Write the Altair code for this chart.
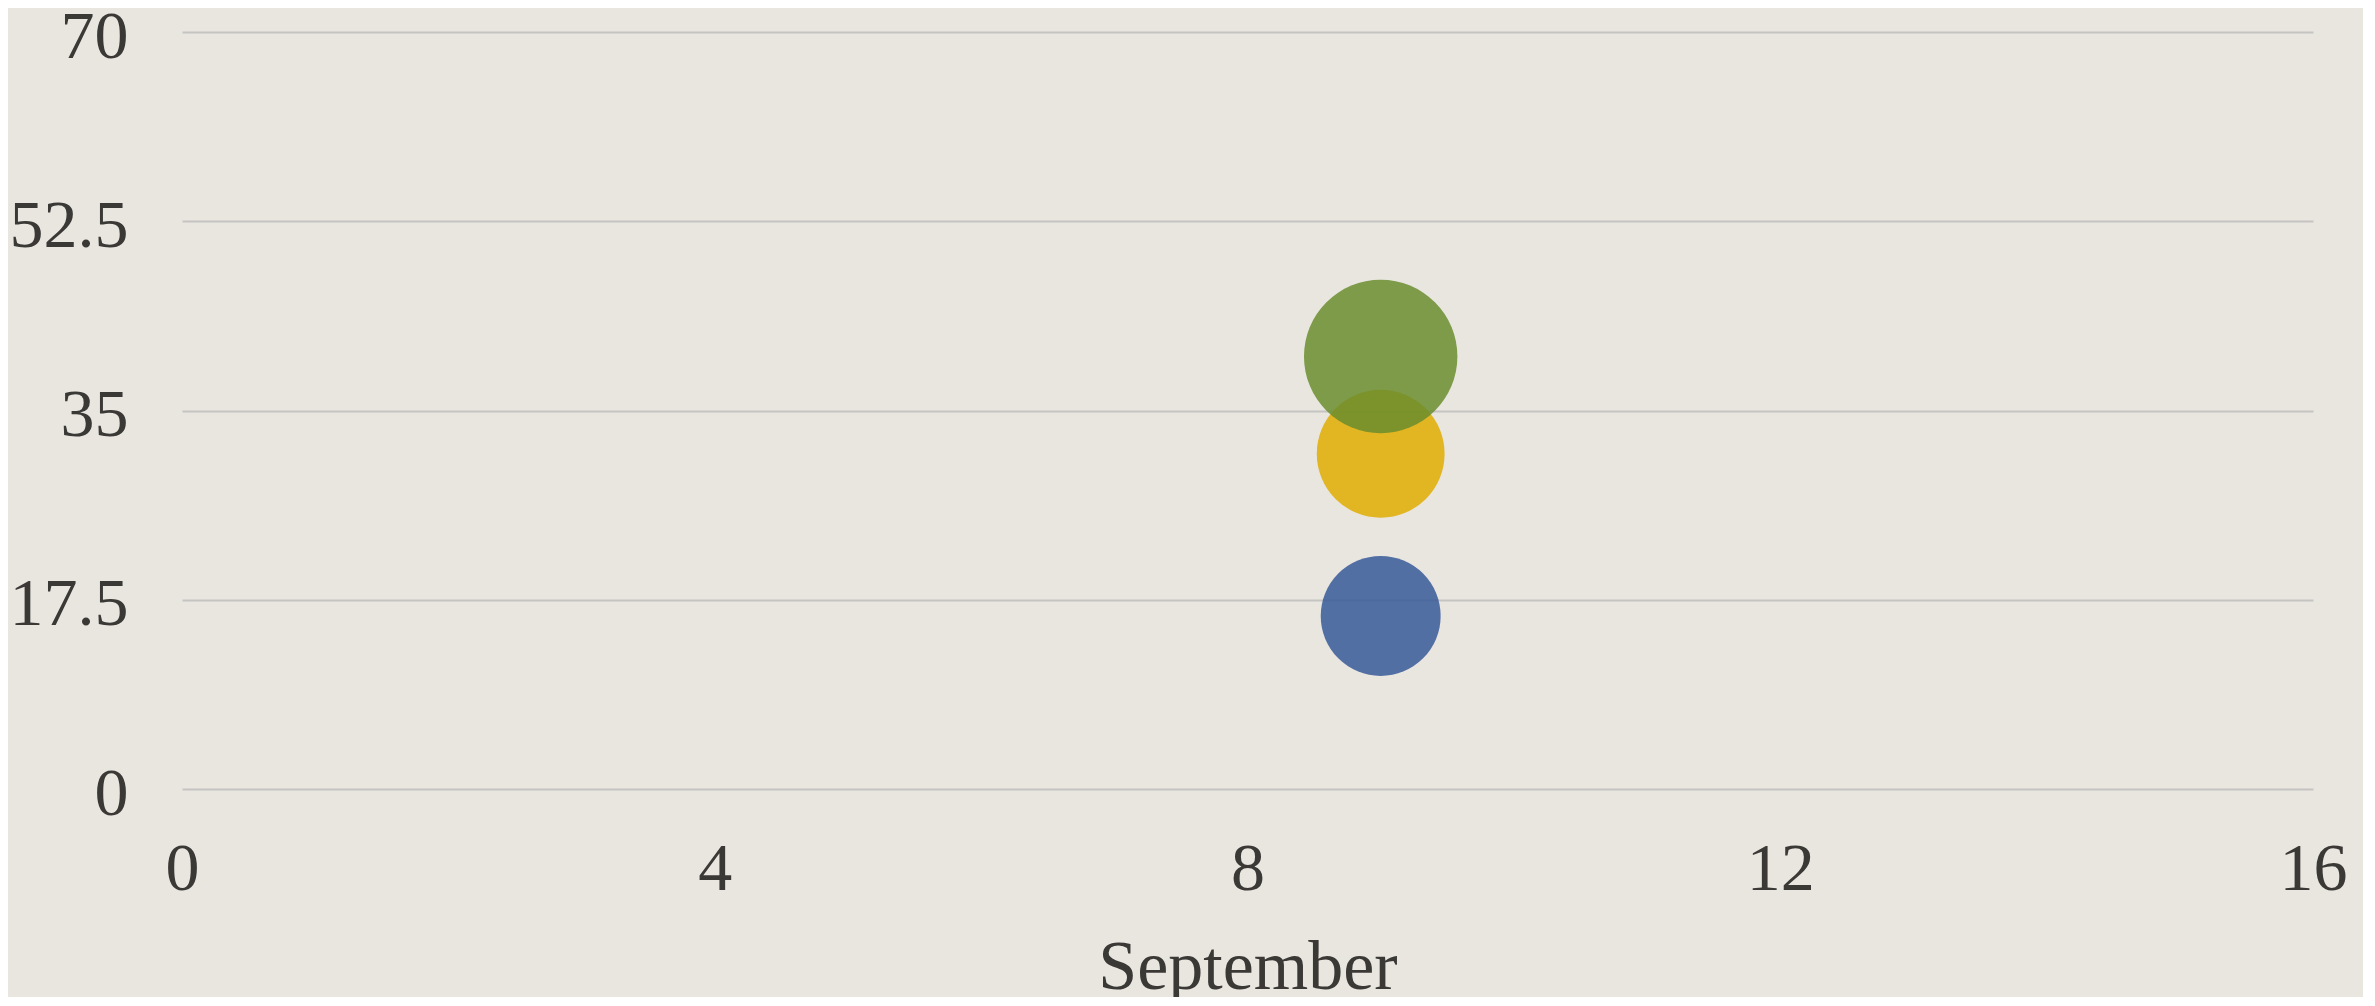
import altair as alt
import pandas as pd

series = ["Series 1", "Series 2", "Series 3"]
x_values = [9, 9, 9]
y_values = [16, 31, 40]
bubble_sizes = [11, 12.5, 18]
colors = ["#375999", "#e0ac00", "#6a8d2e"]
x_ticks = [0, 4, 8, 12, 16]
y_ticks = [0, 17.5, 35, 52.5, 70]
x_title = "September"

df = pd.DataFrame({"series": series, "x": x_values, "y": y_values, "size": bubble_sizes})

FONT = "Liberation Serif"
TXT = "#3b3936"

chart = alt.Chart(df).mark_circle(opacity=0.85).encode(
    x=alt.X("x:Q", scale=alt.Scale(domain=[0, 16], nice=False, zero=True),
            axis=alt.Axis(values=x_ticks, title=x_title, grid=False, domain=False, ticks=False,
                          tickSize=0, labelPadding=46, labelFontSize=68, labelFont=FONT,
                          labelColor=TXT, titleFont=FONT, titleFontSize=70, titleColor=TXT,
                          titleFontWeight="normal", titleBaseline="alphabetic", titleY=199,
                          labelFlush=False, labelOverlap=False)),
    y=alt.Y("y:Q", scale=alt.Scale(domain=[0, 70], nice=False),
            axis=alt.Axis(values=y_ticks, title=None, format=".4~r", grid=True, gridColor="#c6c4c1",
                          gridWidth=2, gridOpacity=1, domain=False, ticks=False, tickSize=0,
                          labelPadding=54, labelFontSize=68, labelFont=FONT, labelColor=TXT,
                          labelFlush=False, labelOverlap=False, labelBaseline="alphabetic",
                          labelOffset=25)),
    size=alt.Size("size:Q", scale=alt.Scale(domain=[0, 18], range=[0, 23530], zero=True), legend=None),
    color=alt.Color("series:N", scale=alt.Scale(domain=series, range=colors), legend=None),
    order=alt.Order("size:Q"),
).properties(
    width=2131,
    height=757,
    autosize=alt.AutoSizeParams(type="none"),
    padding={"left": 174, "top": 24, "right": 50, "bottom": 208},
    background="#e9e6e0",
).configure_view(stroke=None)

chart.save("out.html", embed_options={"renderer": "svg", "actions": False})
